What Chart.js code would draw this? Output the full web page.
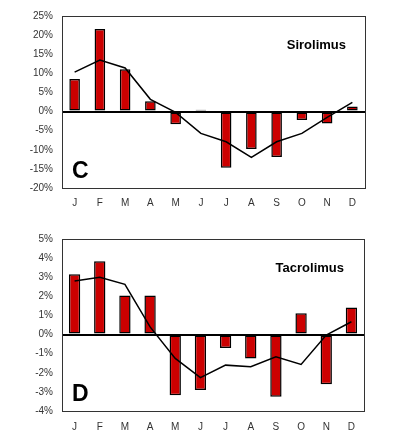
<!DOCTYPE html>
<html>
<head>
<meta charset="utf-8">
<script src="https://cdn.jsdelivr.net/npm/chart.js@4"></script>
<style>
  body { margin: 0; background: #fff; }
  .panel { position: absolute; left: 0; width: 398px; height: 218px; }
</style>
</head>
<body>
<div class="panel" style="top:0"><canvas id="chart-c" width="398" height="218"></canvas></div>
<div class="panel" style="top:218px"><canvas id="chart-d" width="398" height="218"></canvas></div>
<script>
const months = ['J', 'F', 'M', 'A', 'M', 'J', 'J', 'A', 'S', 'O', 'N', 'D'];

// Sirolimus (panel C), % deviation per month
const siroBars = [8.5, 21.6, 11.1, 2.7, -3.3, 0.5, -14.7, -9.8, -11.9, -2.2, -3.1, 1.3];
const siroLine = [10.3, 13.5, 11.4, 3.2, -0.2, -5.7, -7.9, -12.0, -7.9, -5.7, -1.5, 2.4];

// Tacrolimus (panel D)
const tacroBars = [3.15, 3.83, 2.05, 2.05, -3.17, -2.9, -0.71, -1.25, -3.25, 1.11, -2.6, 1.42];
const tacroLine = [2.8, 3.0, 2.63, 0.4, -1.25, -2.25, -1.6, -1.68, -1.16, -1.56, -0.03, 0.67];

Chart.defaults.font.family = 'Arial, "Liberation Sans", sans-serif';
Chart.defaults.color = '#333';

// box around the plot area
const framePlugin = {
  id: 'frame',
  afterDraw(chart) {
    const a = chart.chartArea;
    const ctx = chart.ctx;
    ctx.save();
    ctx.strokeStyle = '#333';
    ctx.lineWidth = 1;
    ctx.strokeRect(a.left + 0.5, a.top + 0.5, a.right - a.left, a.bottom - a.top);
    ctx.restore();
  }
};

const labelPlugin = {
  id: 'panelLabels',
  afterDraw(chart, args, opts) {
    const ctx = chart.ctx;
    ctx.save();
    ctx.fillStyle = '#000';
    ctx.textBaseline = 'middle';
    ctx.font = 'bold 13px Arial, "Liberation Sans", sans-serif';
    ctx.textAlign = 'right';
    ctx.fillText(opts.name, opts.nameX, opts.nameY);
    ctx.font = 'bold 23px Arial, "Liberation Sans", sans-serif';
    ctx.textAlign = 'left';
    ctx.fillText(opts.letter, opts.letterX, opts.letterY);
    ctx.restore();
  }
};

function makePanel(id, bars, line, cfg) {
  return new Chart(document.getElementById(id), {
    type: 'bar',
    data: {
      labels: months,
      datasets: [
        {
          type: 'line',
          data: line,
          borderColor: '#000',
          borderWidth: 1.5,
          pointRadius: 0,
          tension: 0,
          order: 0
        },
        {
          type: 'bar',
          data: bars,
          backgroundColor: '#cc0000',
          borderColor: '#000',
          borderWidth: 1.5,
          borderSkipped: false,
          categoryPercentage: 1,
          barPercentage: cfg.barPct,
          order: 1
        }
      ]
    },
    options: {
      responsive: false,
      animation: false,
      devicePixelRatio: 1,
      layout: { padding: { top: cfg.top, right: cfg.right, left: 0, bottom: 0 } },
      plugins: {
        legend: { display: false },
        tooltip: { enabled: false },
        panelLabels: cfg.labels
      },
      scales: {
        x: {
          grid: { display: false, drawTicks: false },
          border: { display: false },
          ticks: { font: { size: 10 }, padding: cfg.xPad, maxRotation: 0, autoSkip: false },
          afterFit: (scale) => { scale.height = cfg.xHeight; }
        },
        y: {
          min: cfg.min,
          max: cfg.max,
          grid: {
            drawTicks: false,
            color: (c) => c.tick && c.tick.value === 0 ? '#000' : 'rgba(0,0,0,0)',
            lineWidth: (c) => c.tick && c.tick.value === 0 ? 2 : 0
          },
          border: { display: false },
          ticks: {
            stepSize: cfg.step,
            padding: 9,
            font: { size: 10 },
            callback: (v) => v + '%'
          },
          afterFit: (scale) => { scale.width = 62; }
        }
      }
    },
    plugins: [framePlugin, labelPlugin]
  });
}

makePanel('chart-c', siroBars, siroLine, {
  min: -20, max: 25, step: 5, top: 16, right: 33, xHeight: 30, xPad: 9, barPct: 0.42,
  labels: { name: 'Sirolimus', nameX: 346, nameY: 45, letter: 'C', letterX: 72, letterY: 172 }
});

makePanel('chart-d', tacroBars, tacroLine, {
  min: -4, max: 5, step: 1, top: 21, right: 34, xHeight: 25, xPad: 10, barPct: 0.45,
  labels: { name: 'Tacrolimus', nameX: 344, nameY: 50, letter: 'D', letterX: 72, letterY: 177 }
});
</script>
</body>
</html>
